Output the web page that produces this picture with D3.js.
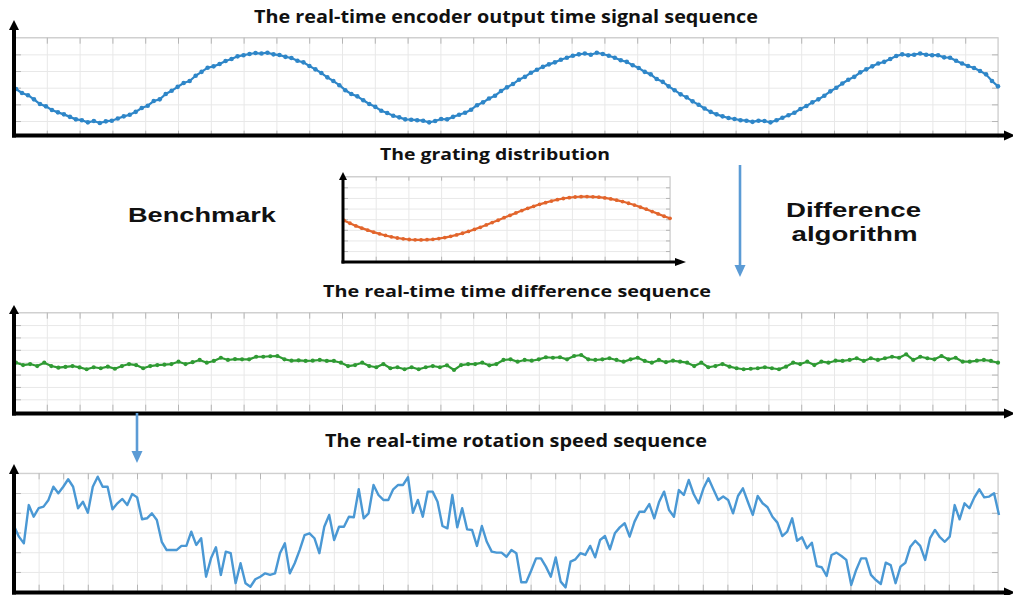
<!DOCTYPE html>
<html>
<head>
<meta charset="utf-8">
<script src="https://cdn.jsdelivr.net/npm/d3@7"></script>
<style>
  body { margin: 0; background: #fff; }
  svg { display: block; font-family: "Open Sans", "DejaVu Sans", sans-serif; }
</style>
</head>
<body>
<div id="chart"></div>
<script>
// DATA (y in grid units)
var encoderSignal = [
  2.92,2.68,2.55,2.30,2.02,1.88,1.66,1.52,1.40,1.25,1.10,1.05,0.92,1.00,0.88,0.98,1.02,1.15,1.28,1.38,1.55,1.78,1.92,2.20,2.30,2.62,2.82,
  3.05,3.28,3.40,3.72,3.95,4.20,4.28,4.42,4.60,4.72,4.88,4.95,5.02,5.08,5.05,5.10,5.00,4.96,4.85,4.78,4.62,4.52,4.30,4.10,3.88,3.62,3.40,3.15,
  2.85,2.62,2.48,2.25,2.02,1.85,1.62,1.48,1.32,1.22,1.10,1.08,1.05,1.02,0.92,1.00,1.12,1.10,1.25,1.38,1.50,1.68,1.95,2.12,2.35,2.52,2.80,
  3.02,3.22,3.48,3.65,3.90,4.08,4.25,4.40,4.52,4.68,4.80,4.92,5.00,5.05,4.98,5.10,5.02,4.92,4.80,4.65,4.55,4.35,4.18,3.95,3.80,3.52,3.35,3.08,
  2.85,2.60,2.42,2.18,1.98,1.75,1.55,1.40,1.28,1.18,1.12,1.05,1.02,0.95,1.02,1.00,0.92,1.05,1.20,1.35,1.50,1.72,1.90,2.12,2.30,2.52,2.78,
  3.00,3.25,3.48,3.65,3.92,4.10,4.28,4.45,4.55,4.72,4.90,5.00,4.95,4.98,5.05,4.98,4.95,4.95,4.82,4.80,4.62,4.45,4.30,4.18,4.00,3.80,3.40,3.08
];
var gratingSignal = [
  3.88,3.62,3.37,3.16,2.97,2.78,2.62,2.47,2.34,2.23,2.15,2.09,2.06,2.05,2.07,2.11,2.18,2.27,2.39,2.52,2.68,2.85,3.04,3.24,3.46,3.68,3.90,4.14,
  4.36,4.59,4.81,5.02,5.21,5.40,5.56,5.71,5.84,5.95,6.03,6.09,6.12,6.13,6.11,6.07,6.00,5.91,5.79,5.66,5.50,5.33,5.14,4.94,4.72,4.50,4.28,4.08
];
var diffSignal = [
  3.96,3.77,3.85,3.69,3.96,3.69,3.56,3.62,3.69,3.58,3.43,3.59,3.51,3.64,3.47,3.69,3.85,3.77,3.51,3.69,3.77,3.80,3.85,4.04,3.85,4.00,4.18,3.96,
  4.10,4.36,4.18,4.25,4.23,4.23,4.44,4.44,4.48,4.50,4.23,4.12,4.15,4.10,4.12,4.18,4.10,4.10,3.96,
  3.69,3.77,3.96,3.69,3.59,3.85,3.51,3.59,3.43,3.59,3.43,3.59,3.69,3.59,3.75,3.37,3.77,3.85,3.85,3.96,3.75,3.85,4.18,4.23,4.04,4.18,4.12,4.23,
  4.40,4.36,4.40,4.23,4.50,4.58,4.23,4.18,4.23,4.32,4.18,4.04,4.23,4.36,4.10,3.96,4.18,4.00,
  4.12,4.04,3.96,3.69,3.96,3.59,3.69,3.85,3.64,3.51,3.43,3.47,3.51,3.59,3.51,3.43,3.64,3.96,3.85,4.04,3.77,4.04,3.96,4.12,4.10,4.18,4.32,4.10,
  4.32,4.18,4.32,4.44,4.36,4.64,4.18,4.44,4.32,4.23,4.50,4.23,4.36,4.04,4.04,4.12,4.18,4.10,3.96
];
var speedSignal = [
  3.33,2.79,2.45,4.39,3.80,4.23,4.31,4.65,5.32,4.99,5.32,5.70,5.32,4.23,4.56,4.00,5.32,5.83,5.32,5.32,4.18,4.48,4.70,4.39,4.95,4.78,3.67,3.72,
  3.97,3.63,2.53,2.11,2.11,2.11,2.32,2.32,3.04,2.37,2.71,0.76,1.69,2.25,0.85,2.03,1.95,0.43,1.44,0.43,0.25,0.63,0.76,0.93,0.85,0.93,1.95,2.45,
  0.93,1.44,2.11,2.87,2.96,2.71,1.95,3.29,3.89,
  2.62,3.29,3.29,3.80,3.77,5.19,3.72,3.97,5.41,4.90,4.65,4.65,5.19,5.41,5.41,5.80,4.00,4.65,3.80,5.07,5.07,4.56,3.33,3.21,4.90,3.26,4.23,3.16,
  3.13,2.32,3.33,2.53,2.03,1.98,1.98,1.77,2.11,1.95,0.48,0.48,1.06,1.69,1.69,1.27,0.76,1.74,0.51,0.22,1.52,1.64,1.95,1.86,2.32,1.74,2.62,2.82,
  2.15,2.96,3.26,3.47,2.79,3.55,4.05,4.05,4.44,3.72,4.56,5.07,
  4.14,3.80,5.15,4.90,5.66,4.95,4.48,5.24,5.75,5.19,4.65,4.82,4.65,3.97,4.85,5.24,4.56,3.89,4.85,4.48,4.28,3.80,3.50,2.82,3.04,3.72,2.58,2.76,
  2.20,2.48,1.30,1.24,0.80,1.86,1.98,1.81,1.61,0.34,1.10,1.69,1.69,0.85,0.59,0.39,1.47,1.35,0.43,1.27,1.47,2.28,2.58,2.32,1.61,2.71,3.13,2.76,
  2.53,2.79,4.39,3.67,4.48,4.23,4.78,5.19,4.78,4.82,4.99,3.89
];
var panelTitles = [
  "The real-time encoder output time signal sequence",
  "The grating distribution",
  "The real-time time difference sequence",
  "The real-time rotation speed sequence"
];
var sideLabels = ["Benchmark", "Difference", "algorithm"];

var width = 1013, height = 595;
var gridColor = "#e8e8e8", tickColor = "#b5b5b5", boxColor = "#d0d0d0";
var arrowBlue = "#5b9bd5";

var svg = d3.select("#chart").append("svg")
  .attr("width", width)
  .attr("height", height);

// PANELS (layout only)
var panels = [
  { data: encoderSignal, left: 14, right: 998, top: 37.7, bottom: 137.7, xDiv: 30, yDiv: 6,
    sx0: 16, sx1: 998, color: "#2e86c8", lw: 2.2, dot: 2.3,
    axisY: 135.5, axisW: 4, tipY: 20, headW: 10, headH: 10, tipX: 1015, xHeadL: 11, tick: 6 },
  { data: gratingSignal, left: 343, right: 670, top: 176.7, bottom: 261.7, xDiv: 10, yDiv: 8,
    sx0: 344, sx1: 670, color: "#e2652c", lw: 2.2, dot: 1.9,
    axisY: 262, axisW: 3, tipY: 172, headW: 8, headH: 8, tipX: 686, xHeadL: 11, tick: 4 },
  { data: diffSignal, left: 14, right: 998, top: 312.7, bottom: 411.7, xDiv: 30, yDiv: 8,
    sx0: 16, sx1: 998, color: "#2f9a33", lw: 2.2, dot: 2.1,
    axisY: 413.5, axisW: 4, tipY: 305, headW: 10, headH: 9, tipX: 1015, xHeadL: 11, tick: 6 },
  { data: speedSignal, left: 14, right: 998, top: 473.3, bottom: 591.7, xDiv: 40, yDiv: 6,
    sx0: 14, sx1: 999, color: "#4a98d4", lw: 2.4, dot: 0,
    axisY: 592.5, axisW: 4, tipY: 464, headW: 10, headH: 10, tipX: 1015, xHeadL: 11, tick: 6 }
];

function styleAxis(sel, color) {
  sel.select(".domain").remove();
  sel.selectAll(".tick line").attr("stroke", color).attr("stroke-width", 1);
}

function drawPanel(p) {
  var g = svg.append("g");
  var gx = d3.scaleLinear().domain([0, p.xDiv]).range([p.left, p.right]);
  var gy = d3.scaleLinear().domain([0, p.yDiv]).range([p.bottom, p.top]);
  var h = p.bottom - p.top, w = p.right - p.left;

  // grid lines
  g.append("g").attr("transform", "translate(0," + p.bottom + ")")
    .call(d3.axisBottom(gx).tickValues(d3.range(1, p.xDiv + 1)).tickSize(-h).tickFormat(""))
    .call(styleAxis, gridColor);
  g.append("g").attr("transform", "translate(" + p.left + ",0)")
    .call(d3.axisLeft(gy).tickValues(d3.range(1, p.yDiv + 1)).tickSize(-w).tickFormat(""))
    .call(styleAxis, gridColor);

  // box top / right
  g.append("path")
    .attr("d", "M" + p.left + "," + p.top + "H" + p.right + "V" + p.bottom)
    .attr("fill", "none").attr("stroke", boxColor).attr("stroke-width", 1.2);

  // inward ticks on all sides
  var inner = d3.range(1, p.xDiv), innerY = d3.range(1, p.yDiv);
  g.append("g").attr("transform", "translate(0," + p.top + ")")
    .call(d3.axisTop(gx).tickValues(inner).tickSize(-p.tick).tickFormat(""))
    .call(styleAxis, tickColor);
  g.append("g").attr("transform", "translate(0," + (p.bottom - 1) + ")")
    .call(d3.axisBottom(gx).tickValues(inner).tickSize(-p.tick).tickFormat(""))
    .call(styleAxis, tickColor);
  g.append("g").attr("transform", "translate(" + (p.left + 1) + ",0)")
    .call(d3.axisLeft(gy).tickValues(innerY).tickSize(-p.tick).tickFormat(""))
    .call(styleAxis, tickColor);
  g.append("g").attr("transform", "translate(" + p.right + ",0)")
    .call(d3.axisRight(gy).tickValues(innerY).tickSize(-p.tick).tickFormat(""))
    .call(styleAxis, tickColor);

  // series
  var x = d3.scaleLinear().domain([0, p.data.length - 1]).range([p.sx0, p.sx1]);
  var y = d3.scaleLinear().domain([0, p.yDiv]).range([p.bottom, p.top]);
  var line = d3.line()
    .x(function(d, i) { return x(i); })
    .y(function(d) { return y(d); })
    .curve(d3.curveLinear);
  g.append("path")
    .datum(p.data)
    .attr("d", line)
    .attr("fill", "none")
    .attr("stroke", p.color)
    .attr("stroke-width", p.lw)
    .attr("stroke-linejoin", "round");
  if (p.dot > 0) {
    g.selectAll("circle.pt")
      .data(p.data)
      .enter().append("circle")
      .attr("class", "pt")
      .attr("cx", function(d, i) { return x(i); })
      .attr("cy", function(d) { return y(d); })
      .attr("r", p.dot)
      .attr("fill", p.color);
  }

  // black axes with arrow heads
  g.append("line")
    .attr("x1", p.left).attr("x2", p.left)
    .attr("y1", p.axisY + p.axisW / 2).attr("y2", p.tipY + p.headH - 1)
    .attr("stroke", "#000").attr("stroke-width", p.axisW);
  g.append("path")
    .attr("d", "M" + p.left + "," + p.tipY + "L" + (p.left - p.headW / 2) + "," + (p.tipY + p.headH) +
      "L" + (p.left + p.headW / 2) + "," + (p.tipY + p.headH) + "Z")
    .attr("fill", "#000");
  g.append("line")
    .attr("x1", p.left - p.axisW / 2).attr("x2", p.tipX - p.xHeadL + 1)
    .attr("y1", p.axisY).attr("y2", p.axisY)
    .attr("stroke", "#000").attr("stroke-width", p.axisW);
  g.append("path")
    .attr("d", "M" + p.tipX + "," + p.axisY + "L" + (p.tipX - p.xHeadL) + "," + (p.axisY - p.headW / 2) +
      "L" + (p.tipX - p.xHeadL) + "," + (p.axisY + p.headW / 2) + "Z")
    .attr("fill", "#000");
}

panels.forEach(drawPanel);

// TEXT
var titleSpec = [
  { cx: 506, base: 22.5, w: 504, size: 17 },
  { cx: 495, base: 160, w: 230, size: 16 },
  { cx: 517, base: 297, w: 388, size: 16.5 },
  { cx: 516, base: 446.7, w: 382, size: 17 }
];
svg.selectAll("text.title")
  .data(panelTitles)
  .enter().append("text")
  .attr("class", "title")
  .attr("x", function(d, i) { return titleSpec[i].cx; })
  .attr("y", function(d, i) { return titleSpec[i].base; })
  .attr("text-anchor", "middle")
  .attr("font-weight", "bold")
  .attr("font-size", function(d, i) { return titleSpec[i].size; })
  .attr("textLength", function(d, i) { return titleSpec[i].w; })
  .attr("lengthAdjust", "spacingAndGlyphs")
  .attr("fill", "#111")
  .text(function(d) { return d; });

// side labels: tighter line box so the two lines do not collide
var sideSpec = [
  { cx: 202, base: 222.3, w: 148 },
  { cx: 853.5, base: 216.7, w: 135 },
  { cx: 854.5, base: 240.5, w: 126 }
];
svg.selectAll("text.side")
  .data(sideLabels)
  .enter().append("text")
  .attr("class", "side")
  .attr("x", function(d, i) { return sideSpec[i].cx; })
  .attr("y", function(d, i) { return sideSpec[i].base; })
  .attr("text-anchor", "middle")
  .attr("font-family", "'Liberation Sans', Arial, sans-serif")
  .attr("font-weight", "bold")
  .attr("font-size", 20.5)
  .attr("textLength", function(d, i) { return sideSpec[i].w; })
  .attr("lengthAdjust", "spacingAndGlyphs")
  .attr("fill", "#111")
  .text(function(d) { return d; });

// BLUE DOWN ARROWS
function downArrow(x, y1, y2) {
  svg.append("line")
    .attr("x1", x).attr("x2", x)
    .attr("y1", y1).attr("y2", y2 - 10)
    .attr("stroke", arrowBlue).attr("stroke-width", 2.6);
  svg.append("path")
    .attr("d", "M" + x + "," + y2 + "L" + (x - 5.5) + "," + (y2 - 12) + "L" + (x + 5.5) + "," + (y2 - 12) + "Z")
    .attr("fill", arrowBlue);
}
downArrow(740, 165, 277);
downArrow(137, 413, 463);
</script>
</body>
</html>
